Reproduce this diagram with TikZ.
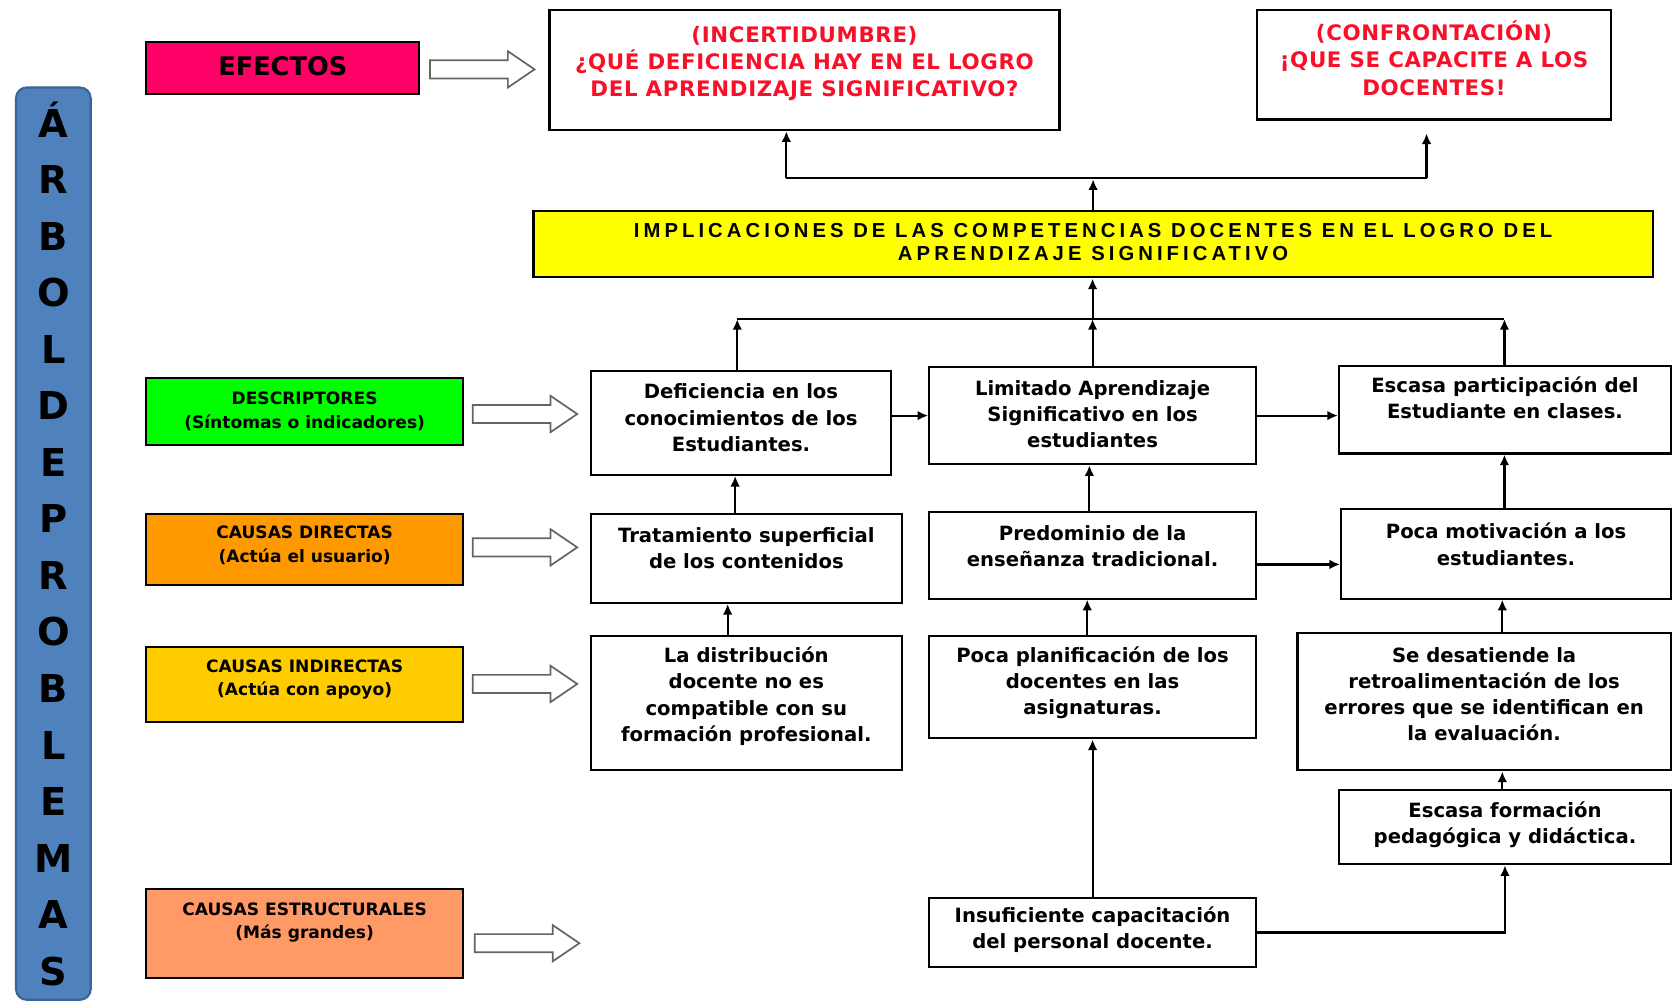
\documentclass[tikz,border=0pt]{standalone}
\usepackage{fontspec}
\setmainfont{DejaVu Sans}
\newfontfamily\lib{Liberation Sans}
\usetikzlibrary{arrows.meta,calc}
\definecolor{efc}{RGB}{255,0,102}
\definecolor{grn}{RGB}{0,255,0}
\definecolor{org}{RGB}{255,153,0}
\definecolor{gld}{RGB}{255,204,0}
\definecolor{sal}{RGB}{255,153,102}
\definecolor{yel}{RGB}{255,255,0}
\definecolor{barc}{RGB}{79,129,189}
\definecolor{barb}{RGB}{60,100,150}
\definecolor{redt}{RGB}{250,15,40}
\definecolor{holc}{RGB}{100,100,100}
\newcommand{\bt}[4]{\parbox[c][#2][c]{#1}{\centering #4\par\vspace*{#3}}}
\newcommand{\midf}{\fontsize{9.2}{12.3}\selectfont\bfseries}
\newcommand{\labf}{\fontsize{8}{11}\selectfont\bfseries}
\newcommand{\redf}{\fontsize{10}{12.8}\selectfont\bfseries\addfontfeature{LetterSpace=3}\color{redt}}
\newcommand{\yelf}{\lib\fontsize{9.5}{11}\selectfont\bfseries\addfontfeature{LetterSpace=20}}
\newcommand{\holarrow}[1]{\draw[hol] ($(#1)+(0,-8.5)$) -- ++(73,0) -- ++(0,-8.5) -- ++(25,17) -- ++(-25,17) -- ++(0,-8.5) -- ++(-73,0) -- cycle;}
\tikzset{
  tb/.style={draw, line width=1pt, inner sep=0pt, fill=white},
  arr/.style={line width=1pt, -{Latex[length=5pt,width=4.5pt]}},
  ln/.style={line width=1pt},
  hol/.style={draw=holc, fill=white, line width=0.8pt, line join=miter},
}
\begin{document}
\begin{tikzpicture}[x=0.5pt,y=-0.5pt]
\useasboundingbox (0,0) rectangle (1568,938);
% vertical bar
\node[draw=barb, fill=barc, rounded corners=5pt, line width=1pt, minimum width=35pt,
  minimum height=427.5pt, inner sep=0pt, align=center,
  font=\fontsize{18}{26.5}\selectfont\bfseries] (bar) at (50,509.5)
  {Á\\R\\B\\O\\L\\D\\E\\P\\R\\O\\B\\L\\E\\M\\A\\S};
% left labels
\node[tb, fill=efc] (efe) at (265,63.5) {\bt{128pt}{24.5pt}{1.5pt}{\fontsize{12}{14}\selectfont\bfseries EFECTOS}};
\node[tb, fill=grn] (desc) at (285.5,385.5) {\bt{148.5pt}{31.5pt}{0pt}{\labf DESCRIPTORES\\(Síntomas o indicadores)}};
\node[tb, fill=org] (cdir) at (285.5,515) {\bt{148.5pt}{33pt}{4pt}{\labf CAUSAS DIRECTAS\\(Actúa el usuario)}};
\node[tb, fill=gld] (cind) at (285.5,641.5) {\bt{148.5pt}{35.5pt}{4.5pt}{\labf CAUSAS INDIRECTAS\\(Actúa con apoyo)}};
\node[tb, fill=sal] (cest) at (285.5,875) {\bt{148.5pt}{42pt}{10.5pt}{\labf CAUSAS ESTRUCTURALES\\(Más grandes)}};
% hollow arrows (left end, centre line)
\coordinate (ha1) at (403,65);
\coordinate (ha2) at (443,388);
\coordinate (ha3) at (443,513);
\coordinate (ha4) at (443,641);
\coordinate (ha5) at (445,884);
\holarrow{ha1}
\holarrow{ha2}
\holarrow{ha3}
\holarrow{ha4}
\holarrow{ha5}
% effects
\node[tb] (q1) at (754,65.5) {\bt{239pt}{56.5pt}{6pt}{\redf (INCERTIDUMBRE)\\¿QUÉ DEFICIENCIA HAY EN EL LOGRO\\DEL APRENDIZAJE SIGNIFICATIVO?}};
\node[tb] (q2) at (1344,60.5) {\bt{166pt}{51.5pt}{6pt}{\redf (CONFRONTACIÓN)\\¡QUE SE CAPACITE A LOS\\DOCENTES!}};
\node[tb, fill=yel] (impl) at (1024.5,229) {\bt{524.5pt}{31pt}{2pt}{\yelf IMPLICACIONES DE LAS COMPETENCIAS DOCENTES EN EL LOGRO DEL\\APRENDIZAJE SIGNIFICATIVO}};
% row 1
\node[tb] (def) at (694.5,396.5) {\bt{140.5pt}{48.5pt}{5pt}{\midf Deficiencia en los\\conocimientos de los\\Estudiantes.}};
\node[tb] (lim) at (1024,389.5) {\bt{153pt}{45.5pt}{1.5pt}{\midf Limitado Aprendizaje\\Significativo en los\\estudiantes}};
\node[tb] (esc) at (1410.5,384) {\bt{155.5pt}{41pt}{11.5pt}{\midf Escasa participación del\\Estudiante en clases.}};
% row 2
\node[tb] (trat) at (699.5,523.5) {\bt{145.5pt}{41.5pt}{9.5pt}{\midf Tratamiento superficial\\de los contenidos}};
\node[tb] (pred) at (1024,520.5) {\bt{153pt}{40.5pt}{8.5pt}{\midf Predominio de la\\enseñanza tradicional.}};
\node[tb] (mot) at (1411.5,519) {\bt{154.5pt}{42pt}{9pt}{\midf Poca motivación a los\\estudiantes.}};
% row 3
\node[tb] (dist) at (699.5,659) {\bt{145.5pt}{63pt}{6.5pt}{\midf La distribución\\docente no es\\compatible con su\\formación profesional.}};
\node[tb] (plan) at (1024,644) {\bt{153pt}{48pt}{4pt}{\midf Poca planificación de los\\docentes en las\\asignaturas.}};
\node[tb] (desat) at (1391,657.5) {\bt{175pt}{64.5pt}{7pt}{\midf Se desatiende la\\retroalimentación de los\\errores que se identifican en\\la evaluación.}};
% row 4,5
\node[tb] (form) at (1410.5,775) {\bt{155.5pt}{35pt}{2pt}{\midf Escasa formación\\pedagógica y didáctica.}};
\node[tb] (insuf) at (1024,874) {\bt{153pt}{32pt}{3pt}{\midf Insuficiente capacitación\\del personal docente.}};
% junction coordinates
\coordinate (jt) at (1024,168);
\coordinate (jl) at (737,167);
\coordinate (jr) at (1337,167);
\coordinate (bl) at (691,299);
\coordinate (jb) at (1024,299);
\coordinate (br) at (1410,299);
\coordinate (x689) at (689,0);
\coordinate (x1021) at (1021,0);
\coordinate (x1410) at (1410,0);
\coordinate (x682) at (682,0);
\coordinate (x1019) at (1019,0);
\coordinate (x1408) at (1408,0);
\coordinate (x1024) at (1024,0);
% connectors top
\draw[arr] (impl.north) -- (impl.north |- jt);
\draw[ln] (jl) -- (jr);
\draw[arr] (jl) -- (jl |- q1.south);
\draw[arr] (jr) -- ($(jr |- q2.south)+(0,12)$);
\draw[ln] (bl) -- (br);
\draw[arr] (jb) -- (jb |- impl.south);
\draw[arr] (def.north -| bl) -- (bl);
\draw[arr] (lim.north -| jb) -- (jb);
\draw[arr] (esc.north -| br) -- (br);
% horizontal
\draw[arr] (def.east |- lim.west) -- (lim.west);
\draw[arr] (lim.east) -- (lim.east -| esc.west);
\coordinate (pm) at ($(pred.east)+(0,8.5)$);
\draw[arr] (pm) -- (pm -| mot.west);
% vertical
\draw[arr] (trat.north -| x689) -- (def.south -| x689);
\draw[arr] (pred.north -| x1021) -- (lim.south -| x1021);
\draw[arr] (mot.north -| x1410) -- (esc.south -| x1410);
\draw[arr] (dist.north -| x682) -- (trat.south -| x682);
\draw[arr] (plan.north -| x1019) -- (pred.south -| x1019);
\draw[arr] (desat.north -| x1408) -- (mot.south -| x1408);
\draw[arr] (form.north -| x1408) -- (desat.south -| x1408);
\draw[arr] (insuf.north -| x1024) -- (plan.south -| x1024);
\draw[arr] (insuf.east) -| (form.south);
\end{tikzpicture}
\end{document}
